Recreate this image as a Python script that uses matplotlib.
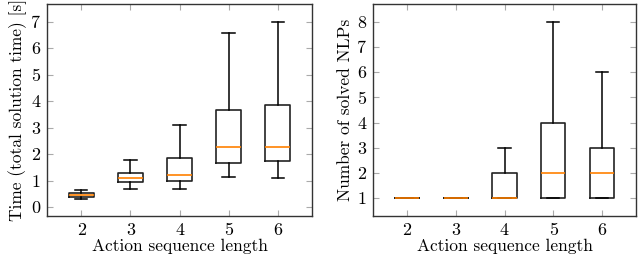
import matplotlib
matplotlib.use("Agg")
import matplotlib.pyplot as plt

plt.rcParams["font.family"] = "cmr10"
plt.rcParams["mathtext.fontset"] = "cm"
plt.rcParams["axes.formatter.use_mathtext"] = True

lengths = [2, 3, 4, 5, 6]

# time per action sequence length [s]
time_low = [0.31, 0.67, 0.68, 1.12, 1.10]
time_q1 = [0.39, 0.96, 1.00, 1.68, 1.74]
time_med = [0.45, 1.11, 1.21, 2.28, 2.26]
time_q3 = [0.54, 1.30, 1.87, 3.66, 3.86]
time_high = [0.63, 1.79, 3.10, 6.57, 7.00]

# number of solved NLPs
nlp_low = [1, 1, 1, 1, 1]
nlp_q1 = [1, 1, 1, 1, 1]
nlp_med = [1, 1, 1, 2, 2]
nlp_q3 = [1, 1, 2, 4, 3]
nlp_high = [1, 1, 3, 8, 6]


def make_stats(low, q1, med, q3, high):
    return [{"whislo": a, "q1": b, "med": c, "q3": d, "whishi": e, "fliers": []}
            for a, b, c, d, e in zip(low, q1, med, q3, high)]


def draw(ax, stats, ylabel, yticks, ylim):
    ax.bxp(stats, positions=lengths, widths=0.5, showfliers=False,
           boxprops=dict(color="#222222", linewidth=1.2),
           whiskerprops=dict(color="black", linewidth=1.1),
           capprops=dict(color="black", linewidth=1.1),
           medianprops=dict(color="#ff8000", linewidth=1.2))
    ax.set_xlim(1.3, 6.7)
    ax.set_ylim(*ylim)
    ax.set_xticks(lengths)
    ax.set_xticklabels([str(v) for v in lengths])
    ax.set_yticks(yticks)
    ax.set_yticklabels([str(v) for v in yticks])
    ax.tick_params(direction="in", top=True, right=True, length=4,
                   color="#aaaaaa", labelsize=13, pad=5)
    for s in ax.spines.values():
        s.set_color("#333333")
        s.set_linewidth(1.0)
    ax.set_xlabel("Action sequence length", fontsize=12.5, labelpad=0)
    ax.set_ylabel(ylabel, fontsize=12.5, labelpad=3)


fig = plt.figure(figsize=(6.4, 2.6), dpi=100)
ax1 = fig.add_axes([47 / 640, 44 / 260, 265 / 640, 212 / 260])
ax2 = fig.add_axes([373 / 640, 44 / 260, 263 / 640, 212 / 260])

draw(ax1, make_stats(time_low, time_q1, time_med, time_q3, time_high),
     "Time (total solution time) [s]", list(range(0, 8)), (-0.34, 7.67))
draw(ax2, make_stats(nlp_low, nlp_q1, nlp_med, nlp_q3, nlp_high),
     "Number of solved NLPs", list(range(1, 9)), (0.3, 8.7))

fig.savefig("out.png", dpi=100)
